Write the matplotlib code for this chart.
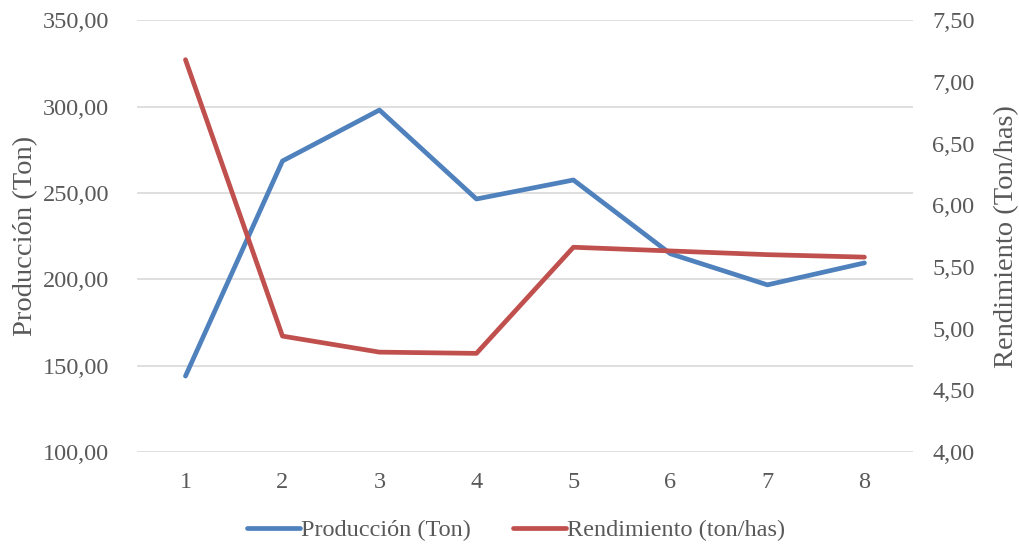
import matplotlib.pyplot as plt
from matplotlib.ticker import FuncFormatter

plt.rcParams['font.family'] = ['Liberation Serif', 'DejaVu Serif']

periodos = [1, 2, 3, 4, 5, 6, 7, 8]
produccion = [144.0, 268.5, 298.0, 246.5, 257.5, 214.8, 196.8, 209.5]
rendimiento = [7.18, 4.94, 4.81, 4.80, 5.66, 5.63, 5.60, 5.58]

azul = '#4F81BD'
rojo = '#C0504D'
gris = '#595959'
fs = 17.5

fig = plt.figure(figsize=(10.2, 5.46), dpi=100)
ax = fig.add_axes([0.1343, 0.172, 0.7607, 0.791])
ax2 = ax.twinx()

l1, = ax.plot(periodos, produccion, color=azul, lw=3.4, solid_capstyle='round',
              solid_joinstyle='round', label='Producción (Ton)', zorder=3)
l2, = ax2.plot(periodos, rendimiento, color=rojo, lw=3.4, solid_capstyle='round',
               solid_joinstyle='round', label='Rendimiento (ton/has)', zorder=3)

ax.set_xlim(0.5, 8.5)
ax.set_ylim(100, 350)
ax2.set_ylim(4.0, 7.5)
ax.set_xticks(periodos)
ax.set_yticks(range(100, 351, 50))
ax2.set_yticks([4.0 + 0.5 * i for i in range(8)])

coma = FuncFormatter(lambda v, p: f'{v:.2f}'.replace('.', ','))
ax.yaxis.set_major_formatter(coma)
ax2.yaxis.set_major_formatter(coma)

ax.grid(axis='y', color='#d9d9d9', lw=1.2)
ax.set_axisbelow(True)
for a in (ax, ax2):
    for s in a.spines.values():
        s.set_visible(False)
    a.tick_params(length=0, labelsize=fs, colors=gris)
ax.tick_params(axis='y', pad=20)
ax.tick_params(axis='x', pad=14.5)
ax2.tick_params(axis='y', pad=14)

ax.set_ylabel('Producción (Ton)', fontsize=20.5, color=gris, labelpad=3)
ax2.set_ylabel('Rendimiento (Ton/has)', fontsize=20.5, color=gris, labelpad=14)

fig.legend(handles=[l1, l2], loc='center', bbox_to_anchor=(0.506, 0.029), ncol=2,
           frameon=False, fontsize=fs, labelcolor=gris, handlelength=2.15,
           handletextpad=0.05, columnspacing=1.75)

fig.savefig('out.png', dpi=100)
